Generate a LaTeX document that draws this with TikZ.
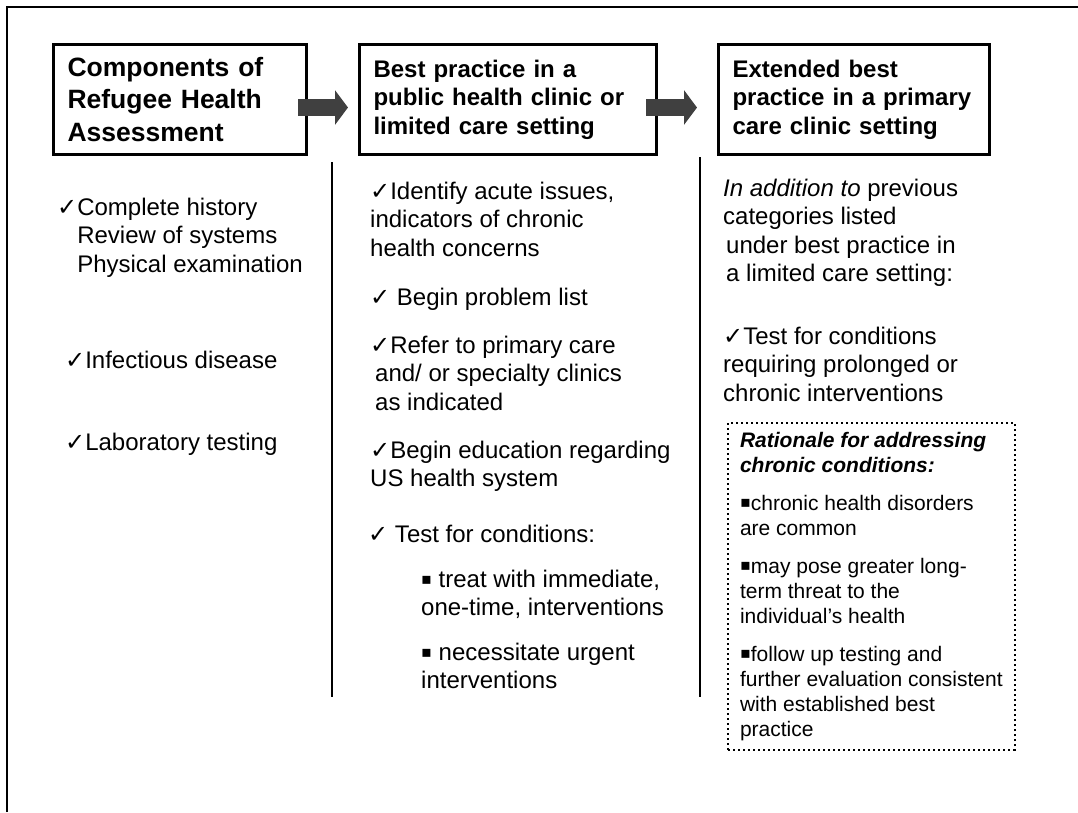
\documentclass[tikz,border=0pt]{standalone}
\usepackage{fontspec}
\setmainfont{Liberation Sans}
\newfontfamily\symfont{DejaVu Sans}
\usetikzlibrary{arrows.meta}
\definecolor{arrowgrey}{RGB}{64,64,64}
\newcommand{\chk}{{\symfont\fontsize{24}{24}\selectfont ✓}}
\newcommand{\sqb}{\raisebox{3pt}{\symfont\fontsize{16}{16}\selectfont ▪}}
\tikzset{
  titlebox/.style={draw, line width=3pt, anchor=north west, align=left,
    inner xsep=14pt, minimum height=110pt,
    font=\bfseries\fontsize{24}{28.5}\selectfont},
  itemtext/.style={anchor=base west, align=left, inner sep=0pt,
    font=\fontsize{24}{28.5}\selectfont},
  flowarrow/.style={line width=17pt, draw=arrowgrey,
    -{Triangle[length=13pt,width=34pt]}},
  divider/.style={line width=1.3pt}
}

\begin{document}
\begin{tikzpicture}[x=1pt,y=-1pt]
  \useasboundingbox (0,0) rectangle (1078,812);
  \draw[line width=2pt] (7,812) -- (7,7) -- (1078,7); % frame

  % heading boxes
  \node[titlebox, text width=225pt, font=\bfseries\fontsize{26.5}{32.5}\selectfont]
    (comp) at (52,43) {Components of\\Refugee Health\\Assessment};
  \node[titlebox, text width=269pt] (basic) at (358,43)
    {Best practice in a\\public health clinic or\\limited care setting};
  \node[titlebox, text width=243pt] (extended) at (717,43)
    {Extended best\\practice in a primary\\care clinic setting};

  \draw[flowarrow] ([shift={(-10pt,-8pt)}]comp.east) -- ([shift={(-10pt,-8pt)}]basic.west);
  \draw[flowarrow] ([shift={(-12pt,-8pt)}]basic.east) -- ([shift={(-20pt,-8pt)}]extended.west);

  \draw[divider] (332,162) -- (332,697);
  \draw[divider] (700,157) -- (700,697);

  % first column (y = baseline of last line)
  \node[itemtext] (history) at (57,272)
    {\chk Complete history\\\phantom{\chk}Review of systems\\\phantom{\chk}Physical examination};
  \node[itemtext] (infect) at (65,368) {\chk Infectious disease};
  \node[itemtext] (labs) at (65,450) {\chk Laboratory testing};

  % second column
  \node[itemtext] (acute) at (370,256)
    {\chk Identify acute issues,\\indicators of chronic\\health concerns};
  \node[itemtext] (problems) at (370,305) {\chk\ Begin problem list};
  \node[itemtext] (refer) at (370,410)
    {\chk Refer to primary care\\\hspace{5pt}and/ or specialty clinics\\\hspace{5pt}as indicated};
  \node[itemtext] (educate) at (370,486.5)
    {\chk Begin education regarding\\US health system};
  \node[itemtext] (testnow) at (368,542) {\chk\ Test for conditions:};
  \node[itemtext] (onetime) at (421,615.5)
    {\sqb\ treat with immediate,\\one-time, interventions};
  \node[itemtext] (urgent) at (421,688.5)
    {\sqb\ necessitate urgent\\interventions};

  % third column
  \node[itemtext] (addition) at (723,281.5)
    {\textit{In addition to} previous\\categories listed\\\hspace{3pt}under best practice in\\\hspace{3pt}a limited care setting:};
  \node[itemtext] (testlong) at (723,401)
    {\chk Test for conditions\\requiring prolonged or\\chronic interventions};

  \node[draw, line width=2pt, dash pattern=on 2pt off 3pt, anchor=north west,
    align=left, inner xsep=12pt, inner ysep=9pt,
    font=\fontsize{21}{25}\selectfont] (rationale) at (727,422)
    {\textbf{\textit{Rationale for addressing}}\\
     \textbf{\textit{chronic conditions:}}\\[13pt]
     \sqb chronic health disorders\\
     are common\\[13pt]
     \sqb may pose greater long-\\
     term threat to the\\
     individual’s health\\[13pt]
     \sqb follow up testing and\\
     further evaluation consistent\\
     with established best\\
     practice};
\end{tikzpicture}
\end{document}
